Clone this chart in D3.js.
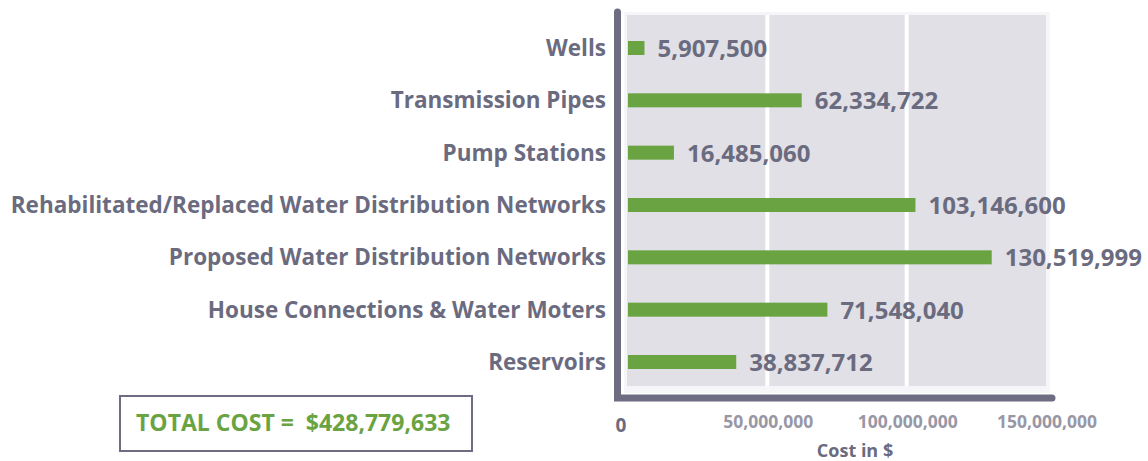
<!DOCTYPE html>
<html>
<head>
<meta charset="utf-8">
<script src="https://cdn.jsdelivr.net/npm/d3@7"></script>
<style>
  body { margin: 0; background: #fff; }
  text { font-family: "Open Sans", sans-serif; font-weight: 700; }
</style>
</head>
<body>
<svg width="1148" height="461"></svg>
<script>
const svg = d3.select("svg");

const categories = [
  "Wells",
  "Transmission Pipes",
  "Pump Stations",
  "Rehabilitated/Replaced Water Distribution Networks",
  "Proposed Water Distribution Networks",
  "House Connections & Water Moters",
  "Reservoirs"
];
const costs = [5907500, 62334722, 16485060, 103146600, 130519999, 71548040, 38837712];
const tickValues = [0, 50000000, 100000000, 150000000];
const gridValues = [50000000, 100000000];
const totalLabel = "TOTAL COST =  $428,779,633";

const textColor = "#6b6b80";
const green = "#6aa342";

const x = d3.scaleLinear().domain([0, 150000000]).range([628, 1046]);
const y = d3.scalePoint().domain(categories).range([48, 362]);
const barH = 14;
const fmt = d3.format(",");

// plot background
svg.append("rect")
  .attr("x", 624).attr("y", 12)
  .attr("width", 426).attr("height", 381)
  .attr("fill", "#f6f6f8");
svg.append("rect")
  .attr("x", x(0) - 1).attr("y", 15)
  .attr("width", x(150000000) - x(0) + 1).attr("height", 371)
  .attr("fill", "#e1e0e6");

svg.selectAll("line.grid")
  .data(gridValues)
  .enter()
  .append("line")
  .attr("class", "grid")
  .attr("x1", d => x(d)).attr("x2", d => x(d))
  .attr("y1", 15).attr("y2", 386)
  .attr("stroke", "#fff")
  .attr("stroke-width", 4);

// bars
svg.selectAll("rect.bar")
  .data(costs)
  .enter()
  .append("rect")
  .attr("class", "bar")
  .attr("x", x(0))
  .attr("y", (d, i) => y(categories[i]) - barH / 2)
  .attr("width", d => x(d) - x(0))
  .attr("height", barH)
  .attr("fill", green);

svg.selectAll("text.value")
  .data(costs)
  .enter()
  .append("text")
  .attr("class", "value")
  .attr("x", d => x(d) + 13)
  .attr("y", (d, i) => y(categories[i]) + 9)
  .attr("font-size", 24)
  .attr("fill", textColor)
  .text(d => fmt(d));

svg.selectAll("text.cat")
  .data(categories)
  .enter()
  .append("text")
  .attr("class", "cat")
  .attr("x", 606)
  .attr("y", d => y(d) + 8)
  .attr("text-anchor", "end")
  .attr("font-size", 22.5)
  .attr("fill", textColor)
  .text(d => d);

// axes lines
svg.append("path")
  .attr("d", "M617.5,12 V398 H1052")
  .attr("fill", "none")
  .attr("stroke", "#6d6c82")
  .attr("stroke-width", 7)
  .attr("stroke-linecap", "round");

// tick labels
svg.selectAll("text.tick")
  .data(tickValues)
  .enter()
  .append("text")
  .attr("class", "tick")
  .attr("x", d => d === 0 ? 621 : x(d) + 1)
  .attr("y", d => d === 0 ? 432 : 428)
  .attr("text-anchor", "middle")
  .attr("font-size", d => d === 0 ? 19 : 17.5)
  .attr("fill", d => d === 0 ? textColor : "#9897a6")
  .text(d => fmt(d));

svg.append("text")
  .attr("x", 855).attr("y", 457)
  .attr("text-anchor", "middle")
  .attr("font-size", 18)
  .attr("fill", textColor)
  .text("Cost in $");

// total box
svg.append("rect")
  .attr("x", 120).attr("y", 396)
  .attr("width", 352).attr("height", 55)
  .attr("fill", "#fff")
  .attr("stroke", "#6d6c82")
  .attr("stroke-width", 2);
svg.append("text")
  .attr("x", 136).attr("y", 431)
  .attr("font-size", 23)
  .attr("fill", green)
  .attr("xml:space", "preserve")
  .style("white-space", "pre")
  .text(totalLabel);
</script>
</body>
</html>
